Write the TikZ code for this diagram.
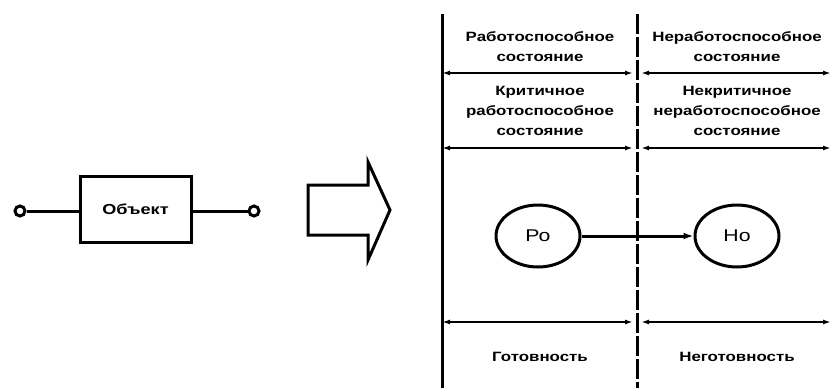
\documentclass[tikz,border=0pt]{standalone}
\usepackage{fontspec}
\setmainfont{Liberation Sans}
\newfontfamily\widefont[FakeStretch=1.25]{Liberation Sans}
\usetikzlibrary{arrows.meta,shapes.geometric}
\begin{document}
\begin{tikzpicture}[x=1pt,y=-1pt,
  lw/.style={line width=3pt},
  txt/.style={font=\widefont\bfseries\fontsize{13.5}{20}\selectfont, align=center, inner sep=0pt},
  dim/.style={line width=2.6pt, {Latex[length=8pt,width=5pt]}-{Latex[length=8pt,width=5pt]}},
  state/.style={ellipse, draw, lw, minimum width=84pt, minimum height=62pt, inner sep=0pt, font=\widefont\fontsize{17}{18}\selectfont}
]
\useasboundingbox (0,0) rectangle (832,388);
% left part
\node[draw, lw, minimum width=111pt, minimum height=66pt, inner sep=0pt, font=\widefont\bfseries\fontsize{14.5}{16}\selectfont] (obj) at (135.5,209) {Объект};
\node[circle, draw, lw, minimum size=10pt, inner sep=0pt] (c1) at (20,211) {};
\node[circle, draw, lw, minimum size=10pt, inner sep=0pt] (c2) at (254,211) {};
\draw[lw] (c1) -- (c1 -| obj.west);
\draw[lw] (c2) -- (c2 -| obj.east);
% big arrow
\draw[lw, line join=miter] (308,185) -- (368,185) -- (368,162) -- (390,210) -- (368,260) -- (368,235) -- (308,235) -- cycle;
% grid
\coordinate (L0) at (442,14);
\coordinate (L1) at (442,388);
\coordinate (M0) at (637,14);
\coordinate (M1) at (637,388);
\draw[lw] (L0) -- (L1);
\draw[lw, dash pattern=on 20pt off 3pt] (M0) -- (M1);
\foreach \y/\n in {73/a,148/b,322/c}{
  \coordinate (l\n) at (442,\y);
  \coordinate (ml\n) at (633,\y);
  \coordinate (mr\n) at (641,\y);
  \coordinate (r\n) at (831,\y);
  \draw[dim] (l\n) -- (ml\n);
  \draw[dim] (mr\n) -- (r\n);
}
% texts
\node[txt] (t1) at (540,47) {Работоспособное\\состояние};
\node[txt] (t2) at (737,47) {Неработоспособное\\состояние};
\node[txt] (t3) at (540,111) {Критичное\\работоспособное\\состояние};
\node[txt] (t4) at (737,111) {Некритичное\\неработоспособное\\состояние};
\node[txt] (t5) at (540,357) {Готовность};
\node[txt] (t6) at (737,357) {Неготовность};
% states
\node[state] (po) at (538,236) {Ро};
\node[state] (no) at (737,236) {Но};
\draw[lw, -{Latex[length=10pt,width=7pt]}] (po) -- (no);
\end{tikzpicture}
\end{document}
